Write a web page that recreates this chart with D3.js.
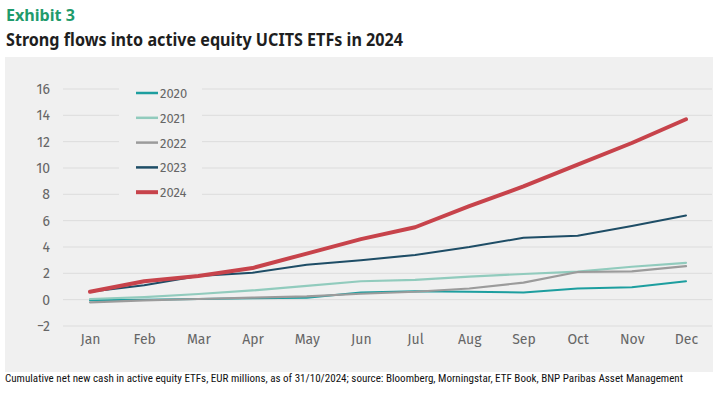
<!DOCTYPE html>
<html><head><meta charset="utf-8">
<script src="https://cdn.jsdelivr.net/npm/d3@7"></script>
<style>
body{margin:0;background:#fff;}
svg{display:block;}
</style></head>
<body>
<svg id="chart" width="725" height="405"></svg>
<script>
const months = ["Jan","Feb","Mar","Apr","May","Jun","Jul","Aug","Sep","Oct","Nov","Dec"];
const seriesNames = ["2020","2021","2022","2023","2024"];
const v2020 = [-0.05,0.0,0.05,0.1,0.15,0.55,0.63,0.6,0.55,0.85,0.95,1.4];
const v2021 = [0.05,0.2,0.43,0.7,1.05,1.4,1.5,1.75,1.95,2.13,2.5,2.8];
const v2022 = [-0.2,-0.05,0.05,0.15,0.25,0.45,0.6,0.85,1.3,2.1,2.15,2.55];
const v2023 = [0.6,1.1,1.8,2.05,2.65,3.0,3.4,4.0,4.7,4.85,5.6,6.4];
const v2024 = [0.6,1.4,1.8,2.4,3.5,4.6,5.5,7.1,8.6,10.25,11.9,13.7];
const yTicks = [-2,0,2,4,6,8,10,12,14,16];
const colors = ["#1d9e9f","#91cbbd","#9b9b9b","#1e4d66","#c7434b"];
const widths = [2,2.2,2.2,2,4];
const title1 = "Exhibit 3";
const title2 = "Strong flows into active equity UCITS ETFs in 2024";
const footnote = "Cumulative net new cash in active equity ETFs, EUR millions, as of 31/10/2024; source: Bloomberg, Morningstar, ETF Book, BNP Paribas Asset Management";

const data = [v2020,v2021,v2022,v2023,v2024];
const svg = d3.select("#chart");
const font = "'Fira Sans','Open Sans','Noto Sans',sans-serif";

// titles
svg.append("text").attr("x",6).attr("y",21).text(title1)
  .attr("font-family","'Noto Sans',sans-serif").attr("font-weight",700).attr("font-size",16)
  .attr("fill","#1f9b6c").attr("textLength",69).attr("lengthAdjust","spacingAndGlyphs");
svg.append("text").attr("x",6).attr("y",46).text(title2)
  .attr("font-family","'Noto Sans',sans-serif").attr("font-weight",700).attr("font-size",17)
  .attr("fill","#1e1e1e").attr("textLength",397).attr("lengthAdjust","spacingAndGlyphs");

// panel
svg.append("rect").attr("x",5).attr("y",57).attr("width",708).attr("height",315).attr("fill","#f0f0f0");

const x = d3.scalePoint().domain(months).range([90,686]);
const y = d3.scaleLinear().domain([-2,16]).range([326,89]);

// grid
svg.append("g").selectAll("line").data(yTicks).join("line")
  .attr("x1",63).attr("x2",712).attr("y1",d=>y(d)).attr("y2",d=>y(d))
  .attr("stroke","#dcdcdc").attr("stroke-width",1);

// y axis labels
const yAxis = d3.axisLeft(y).tickValues(yTicks).tickSize(0).tickPadding(0);
const gy = svg.append("g").attr("transform","translate(50,0)").call(yAxis);
gy.select(".domain").remove();
gy.selectAll("text").attr("font-family",font).attr("font-size",14).attr("fill","#666");

// x axis labels
const xAxis = d3.axisBottom(x).tickSize(0).tickPadding(0);
const gx = svg.append("g").attr("transform","translate(0,334)").call(xAxis);
gx.select(".domain").remove();
gx.selectAll("text").attr("font-family",font).attr("font-size",14).attr("fill","#666");

// legend background
svg.append("rect").attr("x",119).attr("y",80).attr("width",83).attr("height",122).attr("fill","#f0f0f0");

// lines
const line = d3.line().x((d,i)=>x(months[i])).y(d=>y(d));
svg.append("g").selectAll("path").data(data).join("path")
  .attr("d",line).attr("fill","none")
  .attr("stroke",(d,i)=>colors[i]).attr("stroke-width",(d,i)=>widths[i])
  .attr("stroke-linejoin","round").attr("stroke-linecap","round");

// legend
const lg = svg.append("g").selectAll("g").data(seriesNames).join("g")
  .attr("transform",(d,i)=>`translate(136,${93+i*24.8})`);
lg.append("line").attr("x1",0).attr("x2",22).attr("y1",0).attr("y2",0)
  .attr("stroke",(d,i)=>colors[i]).attr("stroke-width",(d,i)=>i===4?4:2.5);
lg.append("text").attr("x",24).attr("y",5).text(d=>d)
  .attr("font-family",font).attr("font-size",13).attr("fill","#666");

// footnote
svg.append("text").attr("x",5).attr("y",382).text(footnote)
  .attr("font-family","'Liberation Sans Narrow','Roboto Condensed','Noto Sans',sans-serif").attr("font-size",10.5)
  .attr("fill","#111").attr("textLength",678).attr("lengthAdjust","spacingAndGlyphs");
</script>
</body></html>
